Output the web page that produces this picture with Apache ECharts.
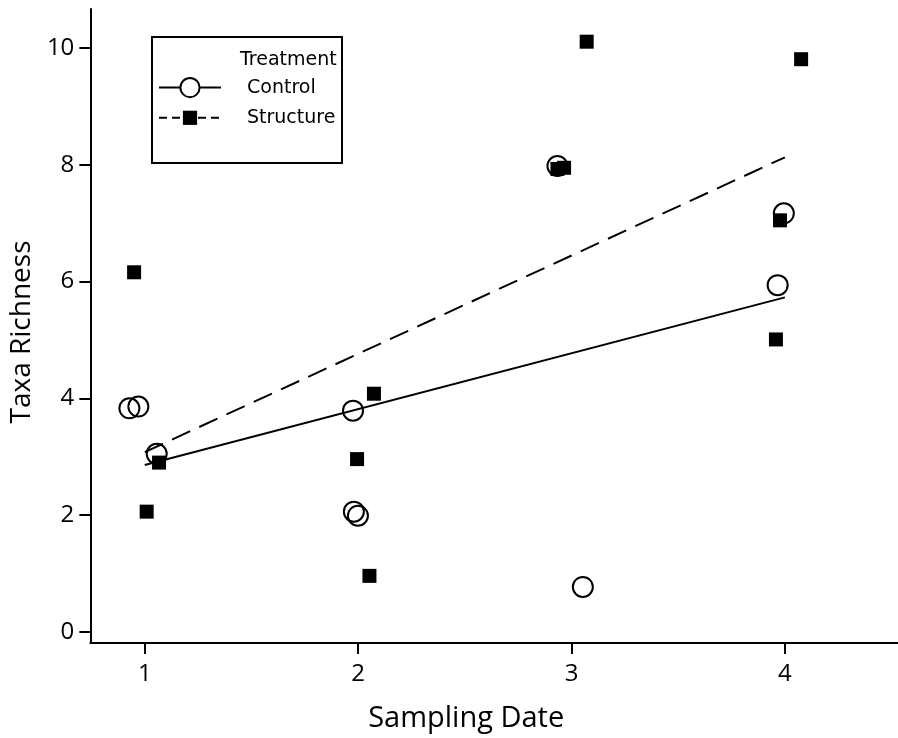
<!DOCTYPE html>
<html>
<head>
<meta charset="utf-8">
<script src="https://cdn.jsdelivr.net/npm/echarts@6/dist/echarts.min.js"></script>
<style>html,body{margin:0;padding:0;background:#fff;}#c{width:898px;height:738px;}</style>
</head>
<body>
<div id="c"></div>
<script>
// Tick labels
const xTicks = [1, 2, 3, 4];
const yTicks = [0, 2, 4, 6, 8, 10];

// Control (open circles): [sampling date (jittered), taxa richness]
const controlPoints = [
  [0.928, 3.83], [0.970, 3.86], [1.056, 3.05],
  [1.976, 3.79], [1.980, 2.06], [1.999, 1.99],
  [2.934, 7.98], [3.053, 0.77],
  [3.995, 7.17], [3.966, 5.94]
];
// Structure (filled squares)
const structurePoints = [
  [0.950, 6.16], [1.009, 2.06], [1.067, 2.90],
  [2.074, 4.08], [1.995, 2.96], [2.053, 0.96],
  [3.071, 10.11], [2.934, 7.93], [2.965, 7.95],
  [3.977, 7.05], [3.958, 5.01], [4.076, 9.81]
];
// Fitted lines (endpoints)
const controlFit = [[1, 2.86], [4, 5.73]];
const structureFit = [[1, 3.08], [4, 8.13]];

const seriesNames = ['Control', 'Structure'];
const legendTitle = 'Treatment';

const chart = echarts.init(document.getElementById('c'), null, {renderer: 'canvas'});
const axisFont = '"Open Sans", sans-serif';
const legFont = '"DejaVu Sans", sans-serif';

chart.setOption({
  animation: false,
  backgroundColor: '#fff',
  grid: {left: 88, right: 0, top: 9, bottom: 95, containLabel: false},
  xAxis: {
    type: 'value', min: 0.745, max: 4.53,
    name: 'Sampling Date', nameLocation: 'middle', nameGap: 61,
    nameTextStyle: {fontFamily: axisFont, fontSize: 29, color: '#000', padding: [0, 56, 0, 0]},
    axisLine: {show: true, onZero: false, lineStyle: {color: '#000', width: 2}},
    axisTick: {show: true, customValues: xTicks, length: 11, lineStyle: {color: '#000', width: 2}},
    axisLabel: {customValues: xTicks, fontFamily: axisFont, fontSize: 24, color: '#000', margin: 19},
    splitLine: {show: false}
  },
  yAxis: {
    type: 'value', min: -0.19, max: 10.67,
    name: 'Taxa Richness', nameLocation: 'middle', nameGap: 46,
    nameTextStyle: {fontFamily: axisFont, fontSize: 28, color: '#000', padding: [0, 12, 0, 0]},
    axisLine: {show: true, onZero: false, lineStyle: {color: '#000', width: 2}},
    axisTick: {show: true, customValues: yTicks, length: 11, lineStyle: {color: '#000', width: 2}},
    axisLabel: {customValues: yTicks, fontFamily: axisFont, fontSize: 24, color: '#000', margin: 16},
    splitLine: {show: false}
  },
  legend: {
    orient: 'vertical', left: 158, top: 77, padding: 0,
    itemWidth: 62, itemHeight: 24, itemGap: 10,
    data: [
      {name: seriesNames[0]},
      {name: seriesNames[1], lineStyle: {type: [8, 5]}}
    ],
    textStyle: {fontFamily: legFont, fontSize: 19, color: '#000', padding: [0, 0, 0, 21]}
  },
  graphic: [
    {type: 'rect', shape: {x: 152, y: 37, width: 190, height: 126},
     style: {fill: 'none', stroke: '#000', lineWidth: 2}, z: 100},
    {type: 'text', left: 240, top: 51,
     style: {text: legendTitle, font: '19px "DejaVu Sans", sans-serif', fill: '#000'}, z: 100}
  ],
  series: [
    {
      name: seriesNames[0], type: 'line', data: controlFit,
      symbol: 'emptyCircle', showSymbol: false,
      itemStyle: {color: '#000'},
      lineStyle: {color: '#000', width: 2, type: 'solid'}
    },
    {
      name: seriesNames[1], type: 'line', data: structureFit,
      symbol: 'path://M0,0M100,100M13,13L87,13L87,87L13,87Z', showSymbol: false,
      itemStyle: {color: '#000'},
      lineStyle: {color: '#000', width: 2, type: [20, 10]}
    },
    {
      name: seriesNames[0], type: 'scatter', data: controlPoints,
      symbol: 'circle', symbolSize: 20,
      itemStyle: {color: 'rgba(0,0,0,0)', borderColor: '#000', borderWidth: 2, opacity: 1}
    },
    {
      name: seriesNames[1], type: 'scatter', data: structurePoints,
      symbol: 'rect', symbolSize: 14,
      itemStyle: {color: '#000', opacity: 1}
    }
  ]
});
</script>
</body>
</html>
